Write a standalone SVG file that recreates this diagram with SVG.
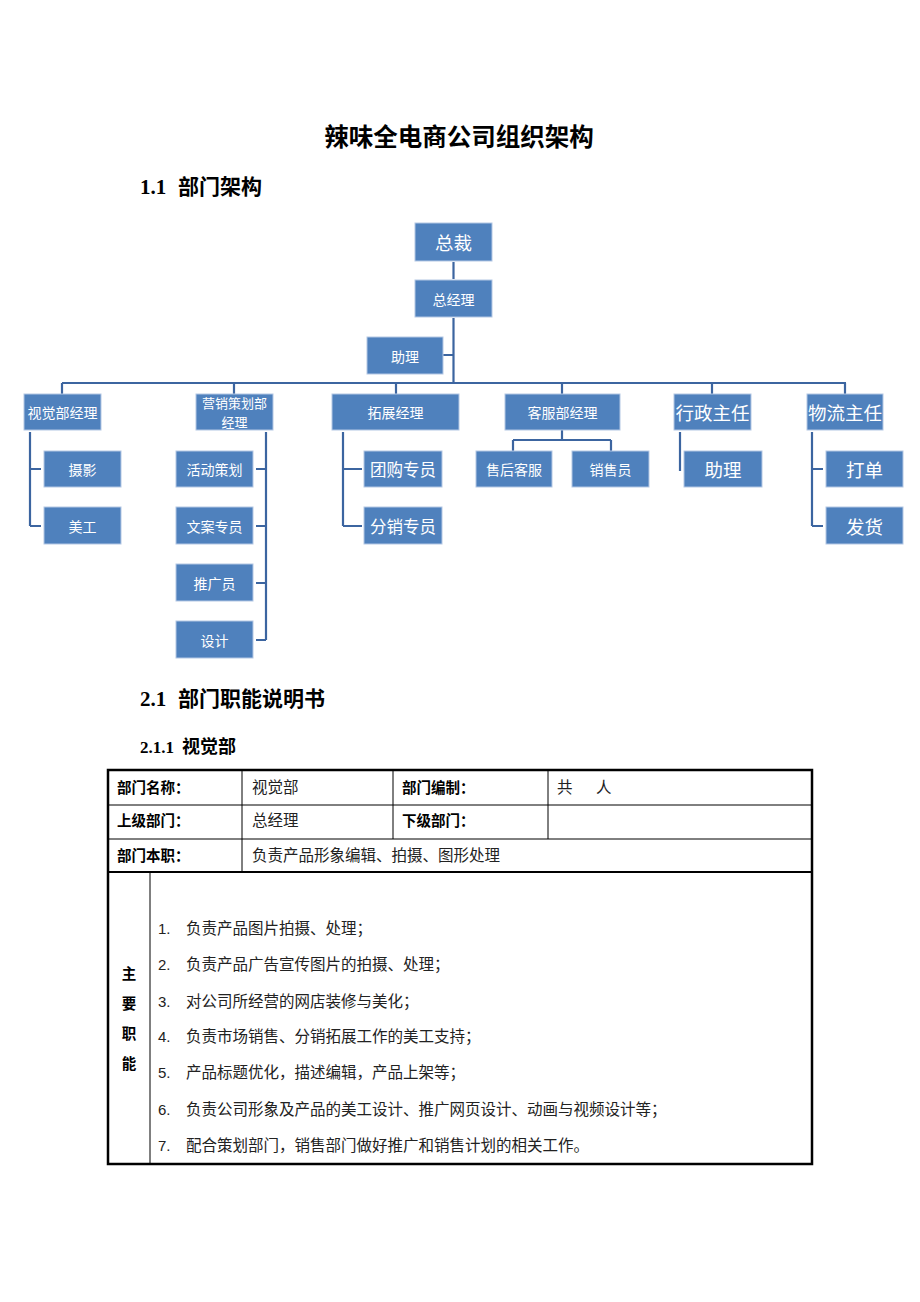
<svg xmlns="http://www.w3.org/2000/svg" width="920" height="1302" viewBox="0 0 920 1302">
<style>
.box{fill:#4F81BD;stroke:#B4C7E4;stroke-width:1}
.nt{fill:#ffffff;font-family:"Noto Sans CJK SC",sans-serif;text-anchor:middle;dominant-baseline:central}
.c{fill:none;stroke:#3C65A0;stroke-width:2.2}
.h{font-family:"Noto Sans CJK SC",sans-serif;fill:#000;font-weight:bold}
.hn{font-family:"Liberation Serif",serif;fill:#000;font-weight:bold}
.lab{font-family:"Noto Sans CJK SC",sans-serif;font-weight:bold;font-size:14.5px;fill:#000}
.val{font-family:"Noto Sans CJK SC",sans-serif;font-size:15.5px;fill:#222}
.num{font-family:"Liberation Sans",sans-serif;font-size:15px;fill:#222}
.tl{stroke:#000;stroke-width:1;fill:none}
</style>
<rect width="920" height="1302" fill="#ffffff"/>

<g id="headings">
<text class="h" x="459" y="146" font-size="24.5" text-anchor="middle">辣味全电商公司组织架构</text>
<text class="hn" x="140" y="194" font-size="21">1.1</text>
<text class="h" x="178" y="194" font-size="21">部门架构</text>
<text class="hn" x="140" y="706" font-size="21">2.1</text>
<text class="h" x="178" y="706" font-size="21">部门职能说明书</text>
<text class="hn" x="140" y="753" font-size="17">2.1.1</text>
<text class="h" x="182" y="753" font-size="18">视觉部</text>
</g>

<g id="connectors">
<path class="c" d="M453.5,262 V279"/>
<path class="c" d="M453.5,318 V383 M443,355 H453.5"/>
<path class="c" d="M62,383 H846"/>
<path class="c" d="M62,383 V394 M234,383 V394 M396,383 V394 M562,383 V394 M712,383 V394 M845,383 V394"/>
<path class="c" d="M30,432 V526 M30,469 H41 M30,526 H41"/>
<path class="c" d="M266,432 V640 M256,469 H266 M256,526 H266 M256,583 H266 M256,640 H266"/>
<path class="c" d="M343,432 V526 M343,469 H362 M343,526 H362"/>
<path class="c" d="M562,430 V440 M513,440 H611 M513,440 V451 M611,440 V451"/>
<path class="c" d="M680,432 V471"/>
<path class="c" d="M812,432 V526 M812,469 H823 M812,526 H823"/>
</g>

<g id="n-zongcai"><rect class="box" x="415" y="223" width="77" height="38"/><text class="nt" x="453.5" y="242" font-size="18.5">总裁</text></g>
<g id="n-zongjingli"><rect class="box" x="415" y="280" width="77" height="37"/><text class="nt" x="453.5" y="298.5" font-size="14">总经理</text></g>
<g id="n-zhuli1"><rect class="box" x="367" y="337" width="76" height="37"/><text class="nt" x="405" y="355.5" font-size="14">助理</text></g>

<g id="n-shijue"><rect class="box" x="24" y="394" width="77" height="36"/><text class="nt" x="62.5" y="412" font-size="14">视觉部经理</text></g>
<g id="n-yingxiao"><rect class="box" x="196" y="394" width="77" height="36"/><text class="nt" x="234.5" y="402.5" font-size="13">营销策划部</text><text class="nt" x="234.5" y="421.5" font-size="13">经理</text></g>
<g id="n-tuozhan"><rect class="box" x="332" y="394" width="127" height="36"/><text class="nt" x="395.5" y="412" font-size="14">拓展经理</text></g>
<g id="n-kefu"><rect class="box" x="505" y="394" width="115" height="36"/><text class="nt" x="562.5" y="412" font-size="14">客服部经理</text></g>
<g id="n-xingzheng"><rect class="box" x="674" y="394" width="77" height="36"/><text class="nt" x="712.5" y="412" font-size="18.5">行政主任</text></g>
<g id="n-wuliu"><rect class="box" x="807" y="394" width="76" height="36"/><text class="nt" x="845" y="412" font-size="18.5">物流主任</text></g>

<g id="n-sheying"><rect class="box" x="44" y="451" width="77" height="36"/><text class="nt" x="82.5" y="469" font-size="14">摄影</text></g>
<g id="n-meigong"><rect class="box" x="44" y="507" width="77" height="37"/><text class="nt" x="82.5" y="525.5" font-size="14">美工</text></g>

<g id="n-huodong"><rect class="box" x="176" y="451" width="77" height="36"/><text class="nt" x="214.5" y="469" font-size="14">活动策划</text></g>
<g id="n-wenan"><rect class="box" x="176" y="507" width="77" height="37"/><text class="nt" x="214.5" y="525.5" font-size="14">文案专员</text></g>
<g id="n-tuiguang"><rect class="box" x="176" y="564" width="77" height="37"/><text class="nt" x="214.5" y="582.5" font-size="14">推广员</text></g>
<g id="n-sheji"><rect class="box" x="176" y="621" width="77" height="37"/><text class="nt" x="214.5" y="639.5" font-size="14">设计</text></g>

<g id="n-tuangou"><rect class="box" x="364" y="451" width="78" height="36"/><text class="nt" x="403" y="469" font-size="16.5">团购专员</text></g>
<g id="n-fenxiao"><rect class="box" x="364" y="507" width="78" height="37"/><text class="nt" x="403" y="525.5" font-size="16.5">分销专员</text></g>

<g id="n-shouhou"><rect class="box" x="476" y="451" width="76" height="36"/><text class="nt" x="514" y="469" font-size="14">售后客服</text></g>
<g id="n-xiaoshou"><rect class="box" x="572" y="451" width="77" height="36"/><text class="nt" x="610.5" y="469" font-size="14">销售员</text></g>

<g id="n-zhuli2"><rect class="box" x="684" y="451" width="78" height="36"/><text class="nt" x="723" y="469" font-size="18.5">助理</text></g>

<g id="n-dadan"><rect class="box" x="826" y="451" width="77" height="36"/><text class="nt" x="864.5" y="469" font-size="18.5">打单</text></g>
<g id="n-fahuo"><rect class="box" x="826" y="507" width="77" height="37"/><text class="nt" x="864.5" y="525.5" font-size="18.5">发货</text></g>

<g id="table">
<path class="tl" d="M108,805 H812 M108,839 H812 M242,770 V872 M393,770 V839 M548,770 V839 M150,872 V1164"/>
<path d="M108,872 H812" stroke="#000" stroke-width="2" fill="none"/>
<rect x="108" y="770" width="704" height="394" fill="none" stroke="#000" stroke-width="2.5"/>
<text class="lab" x="117" y="793">部门名称：</text>
<text class="val" x="252" y="793">视觉部</text>
<text class="lab" x="402" y="793">部门编制：</text>
<text class="val" x="557" y="793">共</text>
<text class="val" x="596" y="793">人</text>
<text class="lab" x="117" y="826">上级部门：</text>
<text class="val" x="252" y="826">总经理</text>
<text class="lab" x="402" y="826">下级部门：</text>
<text class="lab" x="117" y="861">部门本职：</text>
<text class="val" x="252" y="861">负责产品形象编辑、拍摄、图形处理</text>
<text class="lab" x="129" y="979" text-anchor="middle" font-size="15">主</text>
<text class="lab" x="129" y="1009" text-anchor="middle" font-size="15">要</text>
<text class="lab" x="129" y="1039" text-anchor="middle" font-size="15">职</text>
<text class="lab" x="129" y="1069" text-anchor="middle" font-size="15">能</text>
<text class="num" x="158" y="934">1.</text><text class="val" x="186" y="934">负责产品图片拍摄、处理；</text>
<text class="num" x="158" y="970">2.</text><text class="val" x="186" y="970">负责产品广告宣传图片的拍摄、处理；</text>
<text class="num" x="158" y="1007">3.</text><text class="val" x="186" y="1007">对公司所经营的网店装修与美化；</text>
<text class="num" x="158" y="1042">4.</text><text class="val" x="186" y="1042">负责市场销售、分销拓展工作的美工支持；</text>
<text class="num" x="158" y="1078">5.</text><text class="val" x="186" y="1078">产品标题优化，描述编辑，产品上架等；</text>
<text class="num" x="158" y="1115">6.</text><text class="val" x="186" y="1115">负责公司形象及产品的美工设计、推广网页设计、动画与视频设计等；</text>
<text class="num" x="158" y="1151">7.</text><text class="val" x="186" y="1151">配合策划部门，销售部门做好推广和销售计划的相关工作。</text>
</g>
</svg>
